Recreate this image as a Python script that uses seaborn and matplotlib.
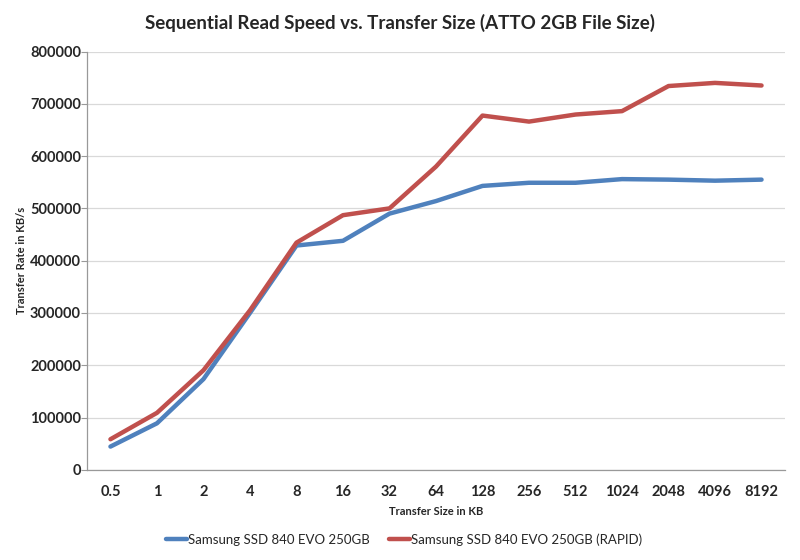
import pandas as pd
import matplotlib.pyplot as plt
import seaborn as sns

# Data
sizes = ["0.5", "1", "2", "4", "8", "16", "32", "64", "128", "256", "512", "1024", "2048", "4096", "8192"]
evo = [44500, 89000, 173500, 300000, 429000, 438000, 490000, 514000, 543000, 549000, 549000, 556000, 555000, 553000, 555000]
rapid = [58500, 109000, 190500, 305000, 434500, 487000, 500000, 580000, 677500, 666000, 679500, 686000, 734000, 740000, 735000]
series = ["Samsung SSD 840 EVO 250GB", "Samsung SSD 840 EVO 250GB (RAPID)"]

df = pd.DataFrame({
    "size": sizes * 2,
    "rate": evo + rapid,
    "drive": [series[0]] * len(sizes) + [series[1]] * len(sizes),
})

sns.set_style("white")
plt.rcParams["font.family"] = ["Lato", "DejaVu Sans"]

fig = plt.figure(figsize=(8, 5.6), dpi=100)
ax = fig.add_axes([0.109, 0.161, 0.872, 0.747])

sns.lineplot(data=df, x="size", y="rate", hue="drive", sort=False,
             palette=["#4F81BD", "#C0504D"], linewidth=3.2, ax=ax)

ax.set_xlim(-0.5, len(sizes) - 0.5)
ax.set_ylim(0, 800000)
ax.set_yticks(range(0, 800001, 100000))
ax.set_yticklabels([str(v) for v in range(0, 800001, 100000)], fontweight="bold", fontsize=10.5)
ax.set_xticks(range(len(sizes)))
ax.set_xticklabels(sizes, fontweight="bold", fontsize=10.5)
ax.set_xticks([i - 0.5 for i in range(len(sizes) + 1)], minor=True)
ax.tick_params(axis="x", which="major", length=0, pad=11)
ax.tick_params(axis="x", which="minor", length=5, color="#999999", direction="out")
ax.tick_params(axis="y", length=4, color="#999999", direction="out", left=True, pad=0.5)

ax.grid(axis="y", color="#d9d9d9", linewidth=0.9)
ax.set_axisbelow(True)
for s in ["top", "right"]:
    ax.spines[s].set_visible(False)
for s in ["left", "bottom"]:
    ax.spines[s].set_color("#999999")
    ax.spines[s].set_linewidth(0.9)

ax.set_xlabel("Transfer Size in KB", fontweight="bold", fontsize=8, labelpad=5)
ax.set_ylabel("Transfer Rate in KB/s", fontweight="bold", fontsize=8, labelpad=2)
fig.suptitle("Sequential Read Speed vs. Transfer Size (ATTO 2GB File Size)",
             fontweight="bold", fontsize=13.5, y=0.975)

ax.legend(loc="center", bbox_to_anchor=(0.505, 0.037), bbox_transform=fig.transFigure,
          ncol=2, frameon=False, fontsize=9.5, handlelength=1.6, handletextpad=0.1,
          columnspacing=1.4)

fig.savefig("out.png", dpi=100)
